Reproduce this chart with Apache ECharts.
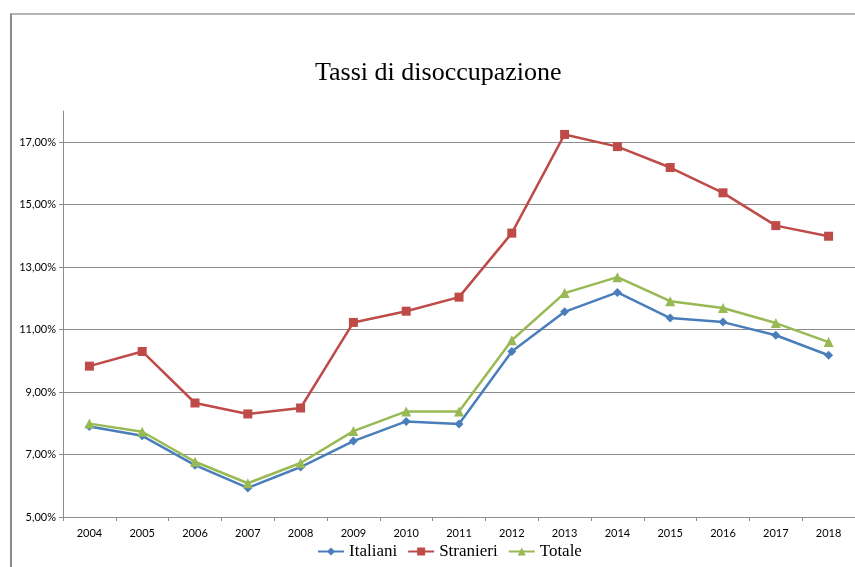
<!DOCTYPE html>
<html>
<head>
<meta charset="utf-8">
<script src="https://cdn.jsdelivr.net/npm/echarts@6/dist/echarts.min.js"></script>
<style>
  html, body { margin: 0; padding: 0; background: #fff; overflow: hidden; }
  #frame { position: absolute; left: 10px; top: 13px; width: 860px; height: 600px;
           border-left: 2px solid #8c8c8c; border-top: 2px solid #b4b4b4; }
  #chart { position: absolute; left: 0; top: 0; width: 855px; height: 567px; }
</style>
</head>
<body>
<div id="frame"></div>
<div id="chart"></div>
<script>
// anni
const years = ['2004', '2005', '2006', '2007', '2008', '2009', '2010', '2011', '2012', '2013', '2014', '2015', '2016', '2017', '2018']

// tassi di disoccupazione (%)
const italiani = [7.9, 7.6, 6.66, 5.93, 6.6, 7.43, 8.06, 7.98, 10.3, 11.57, 12.19, 11.37, 11.24, 10.82, 10.18]
const stranieri = [9.83, 10.3, 8.65, 8.3, 8.49, 11.23, 11.59, 12.04, 14.09, 17.25, 16.86, 16.19, 15.38, 14.33, 13.99]
const totale = [7.99, 7.73, 6.77, 6.08, 6.73, 7.75, 8.38, 8.38, 10.66, 12.17, 12.68, 11.91, 11.69, 11.21, 10.6]

const chart = echarts.init(document.getElementById('chart'))

const fmtPct = v => v.toFixed(2).replace('.', ',') + '%'

const mkSeries = (name, data, color, symbol, size) => ({
  name,
  type: 'line',
  data,
  symbol,
  symbolSize: size,
  clip: false,
  itemStyle: { color },
  lineStyle: { color, width: 2.5 },
  emphasis: { disabled: true }
})

const option = {
  animation: false,
  title: {
    text: 'Tassi di disoccupazione',
    left: 310,
    top: 55,
    textStyle: {
      fontFamily: 'Liberation Serif',
      fontWeight: 'normal',
      fontSize: 26,
      color: '#000'
    }
  },
  legend: {
    bottom: 2,
    left: 312,
    itemWidth: 26,
    itemHeight: 10,
    itemGap: 10,
    textStyle: { fontFamily: 'Liberation Serif', fontSize: 17, color: '#000' },
    data: ['Italiani', 'Stranieri', 'Totale']
  },
  grid: { left: 63, right: 0, top: 111, bottom: 50, containLabel: false },
  xAxis: {
    type: 'category',
    data: years,
    boundaryGap: true,
    axisLine: { lineStyle: { color: '#8c8c8c', width: 1 } },
    axisTick: { show: true, length: 4, inside: false, lineStyle: { color: '#8c8c8c' } },
    axisLabel: { fontFamily: 'Lato', fontSize: 11, color: '#000', margin: 11 }
  },
  yAxis: {
    type: 'value',
    min: 5,
    max: 18,
    interval: 2,
    axisLine: { show: true, lineStyle: { color: '#8c8c8c', width: 1 } },
    axisTick: { show: true, length: 4, lineStyle: { color: '#8c8c8c' } },
    axisLabel: {
      fontFamily: 'Lato', fontSize: 11, color: '#000', margin: 7,
      showMaxLabel: false,
      formatter: fmtPct
    },
    splitLine: { show: true, showMaxLine: false, lineStyle: { color: '#8c8c8c', width: 1 } }
  },
  series: [
    mkSeries('Italiani', italiani, '#4a7ebb', 'diamond', 9),
    mkSeries('Stranieri', stranieri, '#be4b48', 'rect', 9),
    mkSeries('Totale', totale, '#98b954', 'triangle', 10)
  ]
}

chart.setOption(option)
</script>
</body>
</html>
